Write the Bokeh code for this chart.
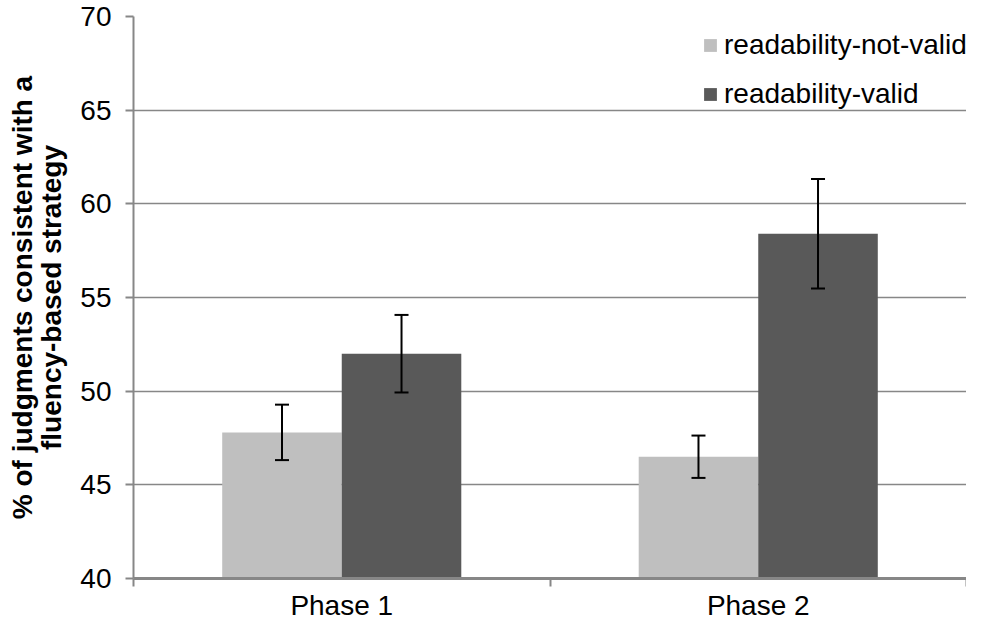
from bokeh.plotting import figure
from bokeh.models import (ColumnDataSource, Whisker, TeeHead, FixedTicker, Legend,
                          LegendItem, Range1d)
from bokeh.transform import dodge
from bokeh.embed import file_html
from bokeh.resources import INLINE

categories = ["Phase 1", "Phase 2"]
not_valid = [47.8, 46.5]
valid = [52.0, 58.4]
err_not_valid = [1.48, 1.13]
err_valid = [2.07, 2.92]
y_ticks = [40, 45, 50, 55, 60, 65, 70]

xpos = [i + 0.5 for i in range(len(categories))]
src = ColumnDataSource(dict(
    x=xpos,
    nv=not_valid, v=valid,
    nv_lo=[a - b for a, b in zip(not_valid, err_not_valid)],
    nv_hi=[a + b for a, b in zip(not_valid, err_not_valid)],
    v_lo=[a - b for a, b in zip(valid, err_valid)],
    v_hi=[a + b for a, b in zip(valid, err_valid)],
))

FONT = "Liberation Sans"
GRAY = "#878787"
FS = "28px"

p = figure(width=966, height=623, output_backend="svg", toolbar_location=None,
           x_range=Range1d(0, len(categories)), y_range=Range1d(40, 70),
           min_border_left=133, min_border_right=0, min_border_top=16,
           min_border_bottom=30)
p.outline_line_color = None
p.background_fill_color = "white"

bw = 0.287
off = bw / 2
r1 = p.vbar(x=dodge("x", -off), top="nv", bottom=40, width=bw, source=src,
            fill_color="#bfbfbf", line_color=None)
r2 = p.vbar(x=dodge("x", off), top="v", bottom=40, width=bw, source=src,
            fill_color="#595959", line_color=None)

for lo, hi, d in (("nv_lo", "nv_hi", -off), ("v_lo", "v_hi", off)):
    w = Whisker(base=dodge("x", d), lower=lo, upper=hi, source=src,
                line_color="black", line_width=2, level="overlay",
                upper_head=TeeHead(size=14, line_color="black", line_width=2),
                lower_head=TeeHead(size=14, line_color="black", line_width=2))
    p.add_layout(w)

# y axis
p.yaxis.ticker = FixedTicker(ticks=y_ticks)
p.yaxis.axis_line_color = GRAY
p.yaxis.axis_line_width = 2
p.yaxis.major_tick_line_color = GRAY
p.yaxis.major_tick_line_width = 2
p.yaxis.major_tick_out = 8
p.yaxis.major_tick_in = 0
p.yaxis.minor_tick_line_color = None
p.yaxis.major_label_text_font = FONT
p.yaxis.major_label_text_font_size = FS
p.yaxis.major_label_text_color = "black"
p.yaxis.major_label_standoff = 14
p.yaxis.axis_label = "% of judgments consistent with a\nfluency-based strategy"
p.yaxis.axis_label_text_font = FONT
p.yaxis.axis_label_text_font_size = FS
p.yaxis.axis_label_text_font_style = "bold"
p.yaxis.axis_label_text_color = "black"
p.yaxis.axis_label_text_line_height = 0.95
p.yaxis.axis_label_standoff = 10

# x axis
p.xaxis.ticker = FixedTicker(ticks=xpos, minor_ticks=list(range(len(categories) + 1)))
p.xaxis.major_label_overrides = {x: c for x, c in zip(xpos, categories)}
p.xaxis.axis_line_color = GRAY
p.xaxis.axis_line_width = 3
p.xaxis.major_tick_line_color = None
p.xaxis.major_tick_out = 8
p.xaxis.major_tick_in = 0
p.xaxis.minor_tick_line_color = GRAY
p.xaxis.minor_tick_line_width = 2
p.xaxis.minor_tick_out = 8
p.xaxis.minor_tick_in = 0
p.xaxis.major_label_text_font = FONT
p.xaxis.major_label_text_font_size = FS
p.xaxis.major_label_text_color = "black"
p.xaxis.major_label_standoff = 3

p.xgrid.grid_line_color = None
p.ygrid.grid_line_color = GRAY
p.ygrid.grid_line_width = 1.5

legend = Legend(items=[LegendItem(label="readability-not-valid", renderers=[r1]),
                       LegendItem(label="readability-valid", renderers=[r2])],
                location=(569, 468), padding=6, margin=0,
                border_line_color=None, background_fill_alpha=0,
                label_text_font=FONT, label_text_font_size=FS,
                label_text_color="black",
                glyph_width=16, glyph_height=16, label_standoff=6, spacing=17)
p.add_layout(legend, "center")

open("out.html", "w").write(file_html(p, INLINE))
